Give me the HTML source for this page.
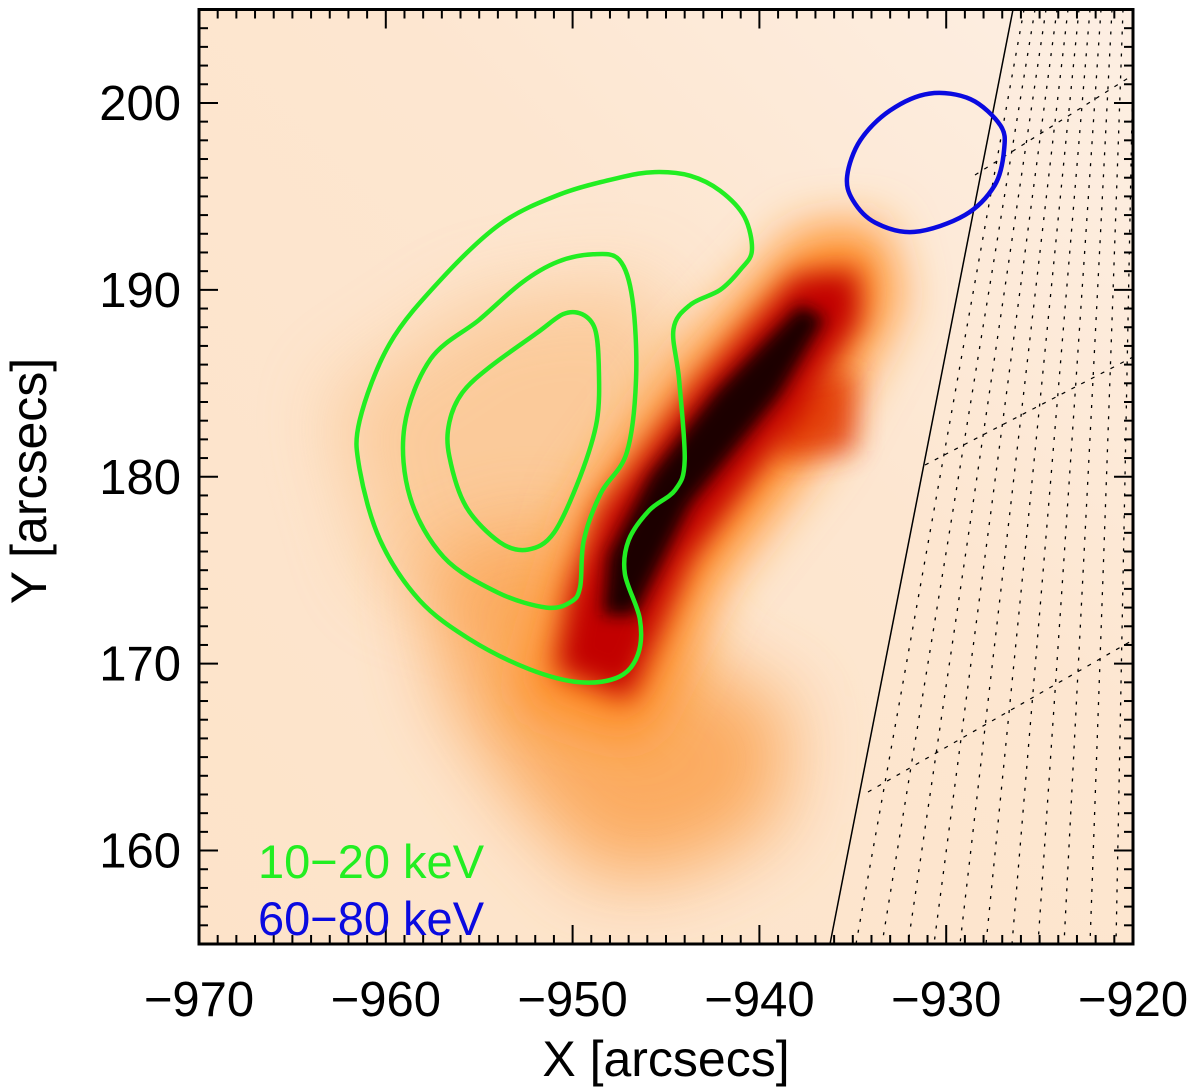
<!DOCTYPE html>
<html><head><meta charset="utf-8"><style>
html,body{margin:0;padding:0;background:#fff;}
svg{display:block;font-family:"Liberation Sans","DejaVu Sans",sans-serif;}
</style></head><body>
<svg id="chart" width="1200" height="1092" viewBox="0 0 1200 1092" xmlns="http://www.w3.org/2000/svg">
<defs>
<filter id="b40" x="-50%" y="-50%" width="200%" height="200%"><feGaussianBlur stdDeviation="38"/></filter>
<filter id="b25" x="-50%" y="-50%" width="200%" height="200%"><feGaussianBlur stdDeviation="25"/></filter>
<filter id="b14" x="-50%" y="-50%" width="200%" height="200%"><feGaussianBlur stdDeviation="14"/></filter>
<filter id="b8" x="-50%" y="-50%" width="200%" height="200%"><feGaussianBlur stdDeviation="8"/></filter>
<linearGradient id="bgGrad" x1="0" y1="1" x2="1" y2="0">
<stop offset="0" stop-color="#fde3c9"/><stop offset="0.6" stop-color="#fde6d0"/><stop offset="1" stop-color="#fdefe3"/>
</linearGradient>
<clipPath id="plotClip"><rect x="199" y="9.5" width="934" height="934.5"/></clipPath>
</defs>
<g clip-path="url(#plotClip)">
<rect x="199" y="9.5" width="934" height="935" fill="url(#bgGrad)"/>
<polygon points="330,400 480,300 640,280 700,380 620,560 500,620 380,580" fill="#fbc48e" opacity="0.8" filter="url(#b40)"/>
<polygon points="420,560 540,520 660,600 720,680 790,700 780,820 690,870 600,880 520,800 450,700" fill="#fba555" opacity="0.9" filter="url(#b40)"/>
<polygon points="520,700 640,740 720,580 820,450 900,300 880,225 800,230 690,350 580,500" fill="#ff8c20" filter="url(#b25)"/>
<polygon points="760,390 855,370 855,450 780,460" fill="#e03000" opacity="0.85" filter="url(#b14)"/>
<polygon points="555,670 630,700 690,560 780,440 860,320 858,270 795,275 695,385 600,510 570,590" fill="#c20000" filter="url(#b14)"/>
<polygon points="603,615 635,615 690,505 780,395 825,318 800,305 715,392 650,475 608,555" fill="#1a0000" filter="url(#b8)"/>
</g>
<g id="limb" clip-path="url(#plotClip)"></g>
<g id="contours" clip-path="url(#plotClip)"></g>
<g id="axes"></g>
<text x="258" y="878" font-size="47" fill="#22ee22">10−20 keV</text>
<text x="258" y="935" font-size="47" fill="#0a0ae0">60−80 keV</text>
<text x="666" y="1076" font-size="50" text-anchor="middle">X [arcsecs]</text>
<text transform="translate(46,481) rotate(-90)" font-size="50" text-anchor="middle">Y [arcsecs]</text>
</svg>
<script>
const xTicks = [-970, -960, -950, -940, -930, -920];
const yTicks = [160, 170, 180, 190, 200];
const xDomain = [-970, -920];
const yDomain = [155, 205];
const outer20X = [-945.6,-947.5,-950.7,-953.9,-957.1,-959.8,-961.4,-961.4,-960.3,-958.2,-955.5,-952.3,-949.6,-947.5,-946.5,-946.4,-947.2,-947.0,-945.9,-944.5,-944.0,-944.3,-944.6,-943.7,-942.1,-941.0,-940.4,-940.8,-942.1,-943.7];
const outer20Y = [196.3,196.0,195.1,193.5,190.5,187.1,183.0,180.4,176.6,173.4,171.3,169.7,169.0,169.3,170.5,172.4,174.8,176.6,178.2,179.3,180.9,185.2,187.9,189.2,190.0,191.1,192.1,193.9,195.3,196.1];
const mid20X = [-948.9,-947.5,-946.8,-946.6,-947.1,-948.5,-949.4,-949.6,-950.1,-951.4,-954.0,-956.9,-958.7,-959.0,-957.6,-955.0,-952.7,-950.8];
const mid20Y = [191.9,191.6,189.5,185.3,181.3,179.1,176.6,174.1,173.3,173.0,173.8,175.7,178.9,182.7,186.3,188.4,190.4,191.5];
const inner20X = [-950.5,-949.5,-948.8,-948.6,-948.7,-949.6,-951.0,-952.4,-953.9,-955.7,-956.6,-956.6,-955.9,-954.4,-951.9];
const inner20Y = [188.7,188.7,187.9,185.9,183.0,180.0,177.0,176.1,176.5,178.4,181.1,182.9,184.5,185.9,187.7];
const hi60X = [-935.3,-934.6,-933.0,-930.9,-928.7,-927.1,-926.9,-927.4,-929.0,-931.7,-933.8,-935.0];
const hi60Y = [196.1,198.0,199.6,200.5,200.2,198.8,197.5,195.6,194.0,193.1,193.6,194.8];

const NS='http://www.w3.org/2000/svg';
const L=199,R=1133,T=9.5,B=944;
function sx(v){return L+(v-xDomain[0])/(xDomain[1]-xDomain[0])*(R-L);}
function sy(v){return B-(v-yDomain[0])/(yDomain[1]-yDomain[0])*(B-T);}
function mk(tag,attrs,parent){const e=document.createElementNS(NS,tag);for(const k in attrs)e.setAttribute(k,attrs[k]);parent.appendChild(e);return e;}

const cg=document.getElementById('contours');
function contour(xs,ys,color,name){
  const P=xs.map((x,i)=>[sx(x),sy(ys[i])]);
  const n=P.length;
  let d='M'+P[0][0].toFixed(1)+','+P[0][1].toFixed(1);
  for(let i=0;i<n;i++){
    const p0=P[(i-1+n)%n],p1=P[i],p2=P[(i+1)%n],p3=P[(i+2)%n];
    const c1=[p1[0]+(p2[0]-p0[0])/6,p1[1]+(p2[1]-p0[1])/6];
    const c2=[p2[0]-(p3[0]-p1[0])/6,p2[1]-(p3[1]-p1[1])/6];
    d+='C'+c1[0].toFixed(1)+','+c1[1].toFixed(1)+' '+c2[0].toFixed(1)+','+c2[1].toFixed(1)+' '+p2[0].toFixed(1)+','+p2[1].toFixed(1);
  }
  d+='Z';
  const p=mk('path',{d:d,fill:'none',stroke:color,'stroke-width':4.5,'stroke-linejoin':'round'},cg);
  
  
}
contour(outer20X,outer20Y,'#22ee22','contour-10-20-kev-outer');
contour(mid20X,mid20Y,'#22ee22','contour-10-20-kev-middle');
contour(inner20X,inner20Y,'#22ee22','contour-10-20-kev-inner');
contour(hi60X,hi60Y,'#0a0ae0','contour-60-80-kev');

const lg=document.getElementById('limb');
const limb=mk('line',{x1:1013,y1:T,x2:830,y2:B,stroke:'#000','stroke-width':1.5},lg);


for(let i=1;i<=11;i++){
  const m=mk('line',{x1:1013+i*11,y1:T,x2:830+i*26,y2:B,stroke:'#000','stroke-width':1.3,'stroke-dasharray':'3 8'},lg);
  
  
}
[[975,175,1133,75],[925,465,1133,357],[868,792,1133,640]].forEach(s=>{
  const p=mk('line',{x1:s[0],y1:s[1],x2:s[2],y2:s[3],stroke:'#000','stroke-width':1.2,'stroke-dasharray':'4 7'},lg);
  
  
});

const ag=document.getElementById('axes');
const frame=mk('rect',{x:L,y:T,width:R-L,height:B-T,fill:'none',stroke:'#000','stroke-width':3},ag);


for(let v=xDomain[0];v<=xDomain[1];v++){
  const major=(v%10===0), len=major?19:9, x=sx(v);
  mk('line',{x1:x,y1:B,x2:x,y2:B-len,stroke:'#000','stroke-width':2},ag);
  mk('line',{x1:x,y1:T,x2:x,y2:T+len,stroke:'#000','stroke-width':2},ag);
}
for(let v=yDomain[0];v<=yDomain[1];v++){
  const major=(v%10===0), len=major?19:9, y=sy(v);
  mk('line',{x1:L,y1:y,x2:L+len,y2:y,stroke:'#000','stroke-width':2},ag);
  mk('line',{x1:R,y1:y,x2:R-len,y2:y,stroke:'#000','stroke-width':2},ag);
}
xTicks.forEach(v=>{
  const t=mk('text',{x:sx(v),y:1016,'font-size':49,'text-anchor':'middle'},ag);
  t.textContent=(v<0?'−':'')+Math.abs(v);
  
  
});
yTicks.forEach(v=>{
  const t=mk('text',{x:181,y:sy(v)+17,'font-size':49,'text-anchor':'end'},ag);
  t.textContent=String(v);
  
  
});
</script>
</body></html>
